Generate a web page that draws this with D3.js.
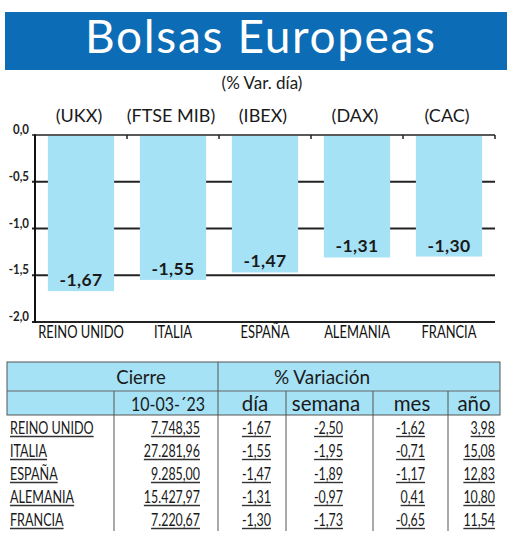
<!DOCTYPE html>
<html>
<head>
<meta charset="utf-8">
<script src="https://cdn.jsdelivr.net/npm/d3@7"></script>
<style>
  html, body { margin: 0; padding: 0; background: #fff; }
  svg { display: block; }
  text { font-family: Lato, "Open Sans", sans-serif; }
</style>
</head>
<body>
<div id="chart"></div>
<script>
// ---------- DATA ----------
const title = "Bolsas Europeas";
const subtitle = "(% Var. día)";
const indices = ["(UKX)", "(FTSE MIB)", "(IBEX)", "(DAX)", "(CAC)"];
const countries = ["REINO UNIDO", "ITALIA", "ESPAÑA", "ALEMANIA", "FRANCIA"];
const dayChange = [-1.67, -1.55, -1.47, -1.31, -1.30];
const yTicks = [0, -0.5, -1.0, -1.5, -2.0];
const closeHeader = "Cierre";
const varHeader = "% Variación";
const closeDate = "10-03-´23";
const periodHeaders = ["día", "semana", "mes", "año"];
const closes = [7748.35, 27281.96, 9285.00, 15427.97, 7220.67];
const weekChange = [-2.50, -1.95, -1.89, -0.97, -1.73];
const monthChange = [-1.62, -0.71, -1.17, 0.41, -0.65];
const yearChange = [3.98, 15.08, 12.83, 10.80, 11.54];

// ---------- SETUP ----------
const W = 520, H = 538;
const loc = d3.formatLocale({decimal: ",", thousands: ".", grouping: [3], currency: ["", ""], minus: "-"});
const f1 = loc.format(".1f"), f2 = loc.format(".2f"), fth = loc.format(",.2f");

const svg = d3.select("#chart").append("svg").attr("width", W).attr("height", H);

const BLUE = "#0c6cb5", LIGHT = "#a6e2f6", INK = "#1a1a1a";

function ctext(parent, x, y, str, o) {
  const g = parent.append("g").attr("transform", `translate(${x},${y}) scale(${o.sx || 1},1)`);
  const t = g.append("text").text(str)
    .attr("font-size", o.size || 16)
    .attr("font-weight", o.weight || 400)
    .attr("text-anchor", o.anchor || "start")
    .attr("fill", o.fill || INK);
  if (o.ls) t.attr("letter-spacing", o.ls);
  if (o.underline) {
    const w = t.node().getComputedTextLength();
    const a = o.anchor || "start";
    const x0 = a === "end" ? -w : a === "middle" ? -w / 2 : 0;
    g.append("line").attr("x1", x0).attr("x2", x0 + w).attr("y1", 3).attr("y2", 3)
      .attr("stroke", "#333").attr("stroke-width", 1.4);
  }
  return t;
}

// ---------- TITLE ----------
svg.append("rect").attr("x", 5).attr("y", 12).attr("width", 502).attr("height", 58).attr("fill", BLUE);
svg.append("text").attr("x", 260).attr("y", 53).attr("text-anchor", "middle")
  .attr("font-size", 46).attr("fill", "#fff").attr("textLength", 350).attr("lengthAdjust", "spacing")
  .text(title);
ctext(svg, 262, 89, subtitle, {size: 17, anchor: "middle"});

// ---------- BAR CHART ----------
const x = d3.scaleBand().domain(countries).range([35, 495]).paddingInner(0.28).paddingOuter(0.14);
const y = d3.scaleLinear().domain([0, -2]).range([135, 322]);

// index labels above
indices.forEach((s, i) => {
  ctext(svg, x(countries[i]) + x.bandwidth() / 2 - 2, 122, s, {size: 18, anchor: "middle"});
});

// gridlines (incl. top & bottom)
svg.append("g").selectAll("line").data(yTicks).join("line")
  .attr("x1", 32).attr("x2", 495)
  .attr("y1", d => y(d)).attr("y2", d => y(d))
  .attr("stroke", "#222").attr("stroke-width", d => d === 0 ? 1.6 : 2);

// top ticks at band boundaries
const bounds = d3.range(1, countries.length + 1).map(i => x.range()[0] + i * x.step());
svg.append("g").selectAll("line").data(bounds).join("line")
  .attr("x1", d => d).attr("x2", d => d)
  .attr("y1", y(0)).attr("y2", y(0) + 4)
  .attr("stroke", "#222").attr("stroke-width", 1.5);

// bars
svg.append("g").selectAll("rect").data(dayChange).join("rect")
  .attr("x", (d, i) => x(countries[i]))
  .attr("width", x.bandwidth())
  .attr("y", y(0) + 1)
  .attr("height", d => y(d) - y(0) - 1)
  .attr("fill", LIGHT);

// left axis line
svg.append("line").attr("x1", 35).attr("x2", 35).attr("y1", y(0) - 0.8).attr("y2", y(-2) + 1)
  .attr("stroke", "#111").attr("stroke-width", 2);

// y tick labels
yTicks.forEach(t => {
  ctext(svg, 29, y(t) - 1, f1(t), {size: 13.5, weight: 700, anchor: "end", sx: 0.85, fill: "#222"});
});

// value labels
dayChange.forEach((v, i) => {
  ctext(svg, x(countries[i]) + x.bandwidth() / 2, y(v) - 5, f2(v),
    {size: 17.5, weight: 700, anchor: "middle", fill: INK, ls: 0.4});
});

// category labels
countries.forEach(c => {
  ctext(svg, x(c) + x.bandwidth() / 2, 338, c, {size: 17, anchor: "middle", sx: 0.76, fill: "#111"});
});

// ---------- TABLE ----------
const T = svg.append("g");
const tLeft = 7, tRight = 500, tTop = 362, tMid = 391, tHead = 415, tBot = 531;
T.append("rect").attr("x", tLeft).attr("y", tTop).attr("width", tRight - tLeft).attr("height", tHead - tTop)
  .attr("fill", LIGHT).attr("stroke", "#555").attr("stroke-width", 1);
T.append("line").attr("x1", tLeft).attr("x2", tRight).attr("y1", tMid).attr("y2", tMid).attr("stroke", "#666");
T.append("line").attr("x1", 218).attr("x2", 218).attr("y1", tTop).attr("y2", tBot).attr("stroke", "#555");
[114, 286, 373, 448].forEach(xx => {
  T.append("line").attr("x1", xx).attr("x2", xx).attr("y1", tMid).attr("y2", tBot).attr("stroke", "#555");
});

ctext(T, 141, 384, closeHeader, {size: 18.5, anchor: "middle"});
ctext(T, 322, 384, varHeader, {size: 19, anchor: "middle"});
ctext(T, 168, 410.5, closeDate, {size: 20, anchor: "middle", sx: 0.8});
const headX = [255, 326, 412, 474];
periodHeaders.forEach((h, i) => ctext(T, headX[i], 410.5, h, {size: 20.5, anchor: "middle"}));

const rowY = i => 433.5 + i * 23;
const cols = [
  {vals: closes, fmt: fth, x: 200},
  {vals: dayChange, fmt: f2, x: 271},
  {vals: weekChange, fmt: f2, x: 343},
  {vals: monthChange, fmt: f2, x: 425},
  {vals: yearChange, fmt: f2, x: 495}
];
countries.forEach((c, i) => {
  ctext(T, 10, rowY(i), c, {size: 18, sx: 0.7, underline: true});
  cols.forEach(col => {
    ctext(T, col.x, rowY(i), col.fmt(col.vals[i]), {size: 18, sx: 0.69, anchor: "end", underline: true});
  });
});
</script>
</body>
</html>
